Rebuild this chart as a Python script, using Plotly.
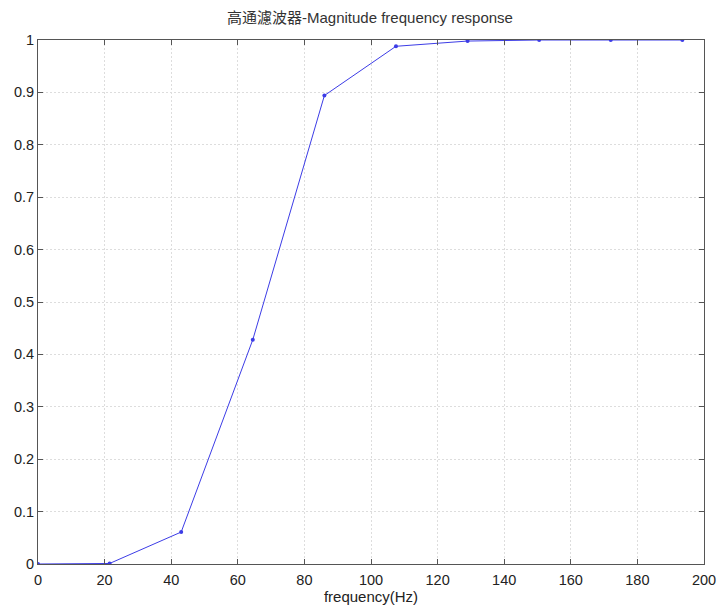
import plotly.graph_objects as go

# Frequency bins (Hz) and normalized magnitude of the high-pass filter
freq_hz = [0, 21.5, 43.0, 64.5, 86.0, 107.5, 129.0, 150.5, 172.0, 193.5]
magnitude = [0.0, 0.001, 0.061, 0.428, 0.894, 0.988, 0.998, 1.0, 1.0, 1.0]

x_ticks = [0, 20, 40, 60, 80, 100, 120, 140, 160, 180, 200]
y_ticks = [0, 0.1, 0.2, 0.3, 0.4, 0.5, 0.6, 0.7, 0.8, 0.9, 1]
y_tick_text = ["0", "0.1", "0.2", "0.3", "0.4", "0.5", "0.6", "0.7", "0.8", "0.9", "1"]

line_color = "rgb(60,60,230)"
axis_color = "#555555"
grid_color = "#dddddd"
font_family = "Liberation Sans, Arial, Noto Sans CJK SC, sans-serif"

fig = go.Figure()
fig.add_trace(go.Scatter(
    x=freq_hz, y=magnitude,
    mode="lines+markers",
    line=dict(color=line_color, width=1),
    marker=dict(color=line_color, size=4),
    showlegend=False,
    hoverinfo="x+y",
))

axis_common = dict(
    showline=True, linecolor=axis_color, linewidth=1, mirror="ticks",
    ticks="inside", ticklen=5, tickwidth=1, tickcolor=axis_color,
    showgrid=True, gridcolor=grid_color, griddash="2px,2px", gridwidth=1,
    zeroline=False, automargin=False,
    tickfont=dict(family=font_family, size=14.5, color="#222222"),
)

fig.update_layout(
    width=717, height=605,
    margin=dict(l=38, r=13, t=40, b=41),
    paper_bgcolor="white", plot_bgcolor="white",
    font=dict(family=font_family),
    title=dict(
        text="高通濾波器-Magnitude frequency response",
        x=0.516, xanchor="center",
        y=1 - 18 / 605, yanchor="middle", yref="container",
        font=dict(family=font_family, size=15, color="#333333"),
    ),
    xaxis=dict(
        range=[0, 200], tickvals=x_ticks, ticklabelstandoff=3,
        title=dict(text="frequency(Hz)", standoff=0,
                   font=dict(family=font_family, size=15, color="#222222")),
        **axis_common,
    ),
    yaxis=dict(
        range=[0, 1], tickvals=y_ticks, ticktext=y_tick_text,
        **axis_common,
    ),
)

fig.write_html("out.html")
